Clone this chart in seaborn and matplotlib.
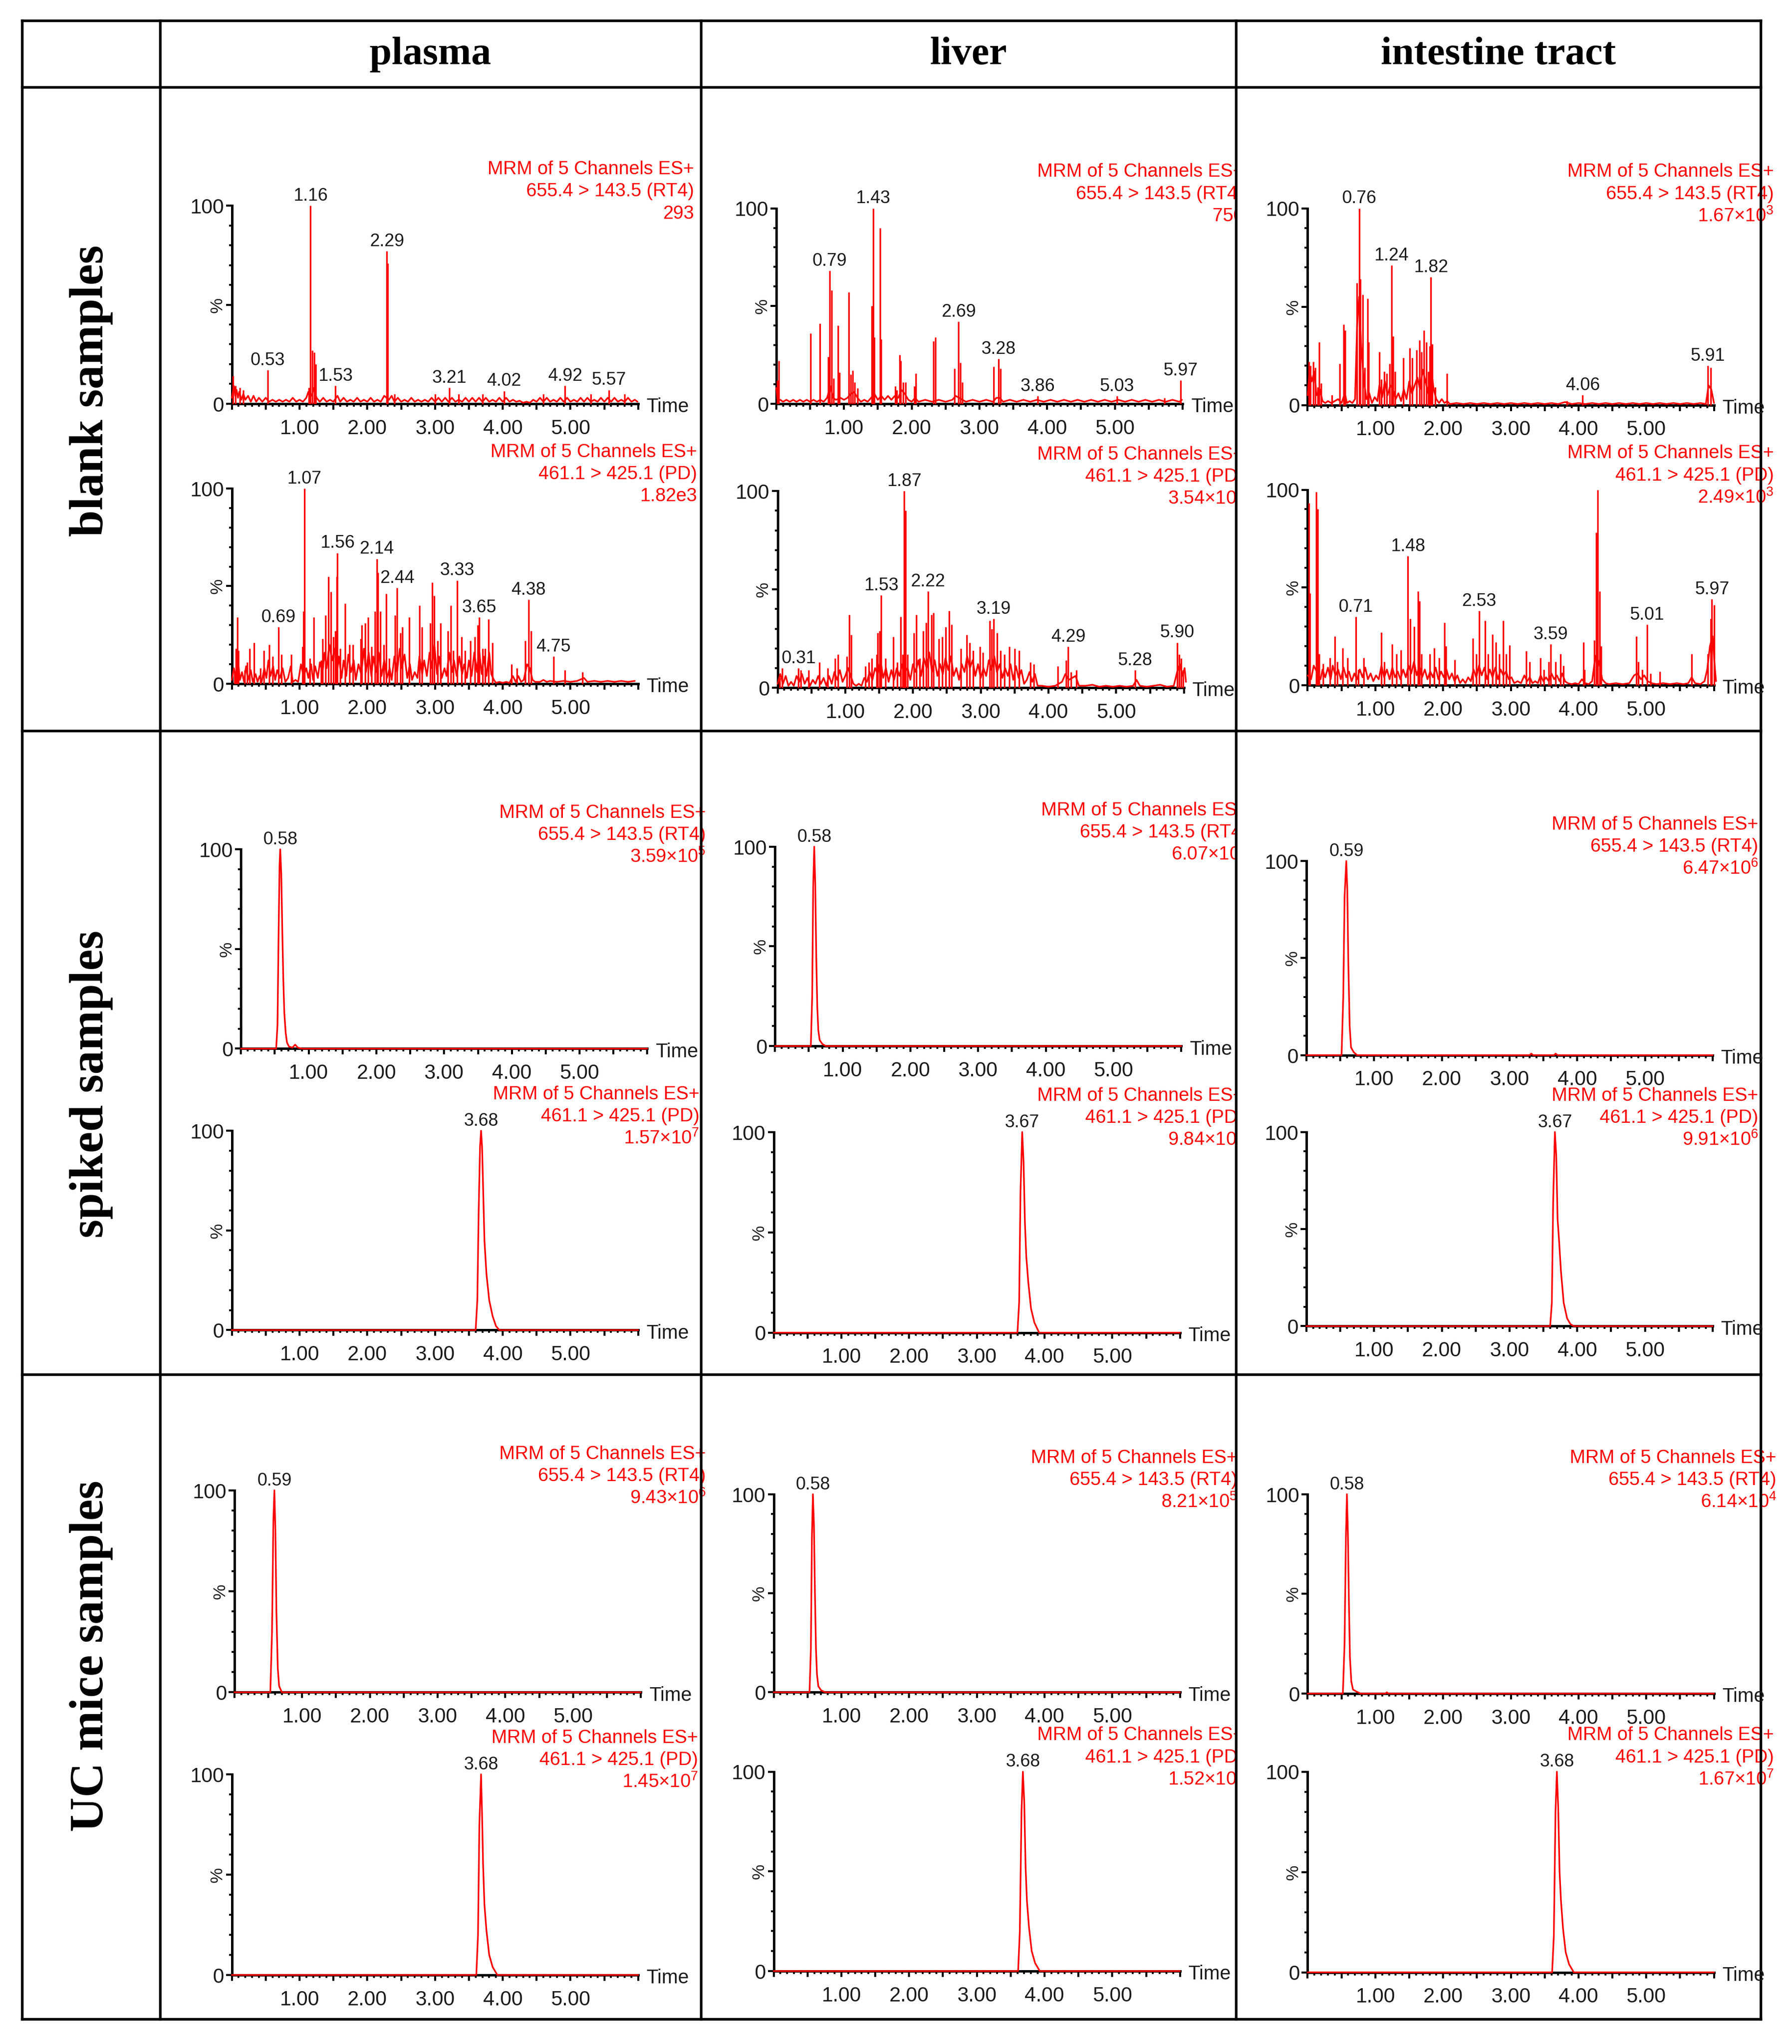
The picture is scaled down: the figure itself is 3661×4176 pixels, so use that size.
#!/usr/bin/env python3
"""MRM chromatograms of RT4 and PD in blank, spiked and UC mice samples."""

import matplotlib

matplotlib.use("Agg")
import matplotlib.pyplot as plt
import seaborn as sns
from matplotlib.ticker import FixedLocator, FuncFormatter, MultipleLocator
from matplotlib.transforms import Bbox, TransformedBbox, blended_transform_factory

RED = "#ff0000"

organs = ["plasma", "liver", "intestine tract"]
sample_rows = ["blank samples", "spiked samples", "UC mice samples"]
mrm_header = "MRM of 5 Channels ES+"
channels = ["655.4 > 143.5 (RT4)", "461.1 > 425.1 (PD)"]

# base-peak intensity shown under each channel, per organ: (RT4, PD)
blank_scale = [("293", "1.82e3"), ("750", "3.54×$10^{3}$"), ("1.67×$10^{3}$", "2.49×$10^{3}$")]
spiked_scale = [("3.59×$10^{5}$", "1.57×$10^{7}$"), ("6.07×$10^{4}$", "9.84×$10^{6}$"),
                ("6.47×$10^{6}$", "9.91×$10^{6}$")]
uc_scale = [("9.43×$10^{6}$", "1.45×$10^{7}$"), ("8.21×$10^{5}$", "1.52×$10^{7}$"),
            ("6.14×$10^{4}$", "1.67×$10^{7}$")]

# ---- blank samples: baseline (time, %) and spikes (time, %) ----
blank_plasma_rt4_floor = [
    (0.00, 3), (0.03, 9), (0.05, 4), (0.07, 7), (0.09, 3), (0.11, 6), (0.14, 2), (0.17, 5),
    (0.20, 2), (0.24, 4), (0.28, 1), (0.32, 4), (0.36, 1), (0.40, 3), (0.45, 1), (0.50, 3),
    (0.55, 1), (0.60, 2), (0.65, 1), (0.70, 2), (0.75, 1), (0.80, 2), (0.85, 1), (0.90, 3),
    (0.95, 1), (1.00, 2), (1.05, 1), (1.10, 3), (1.13, 6), (1.18, 4), (1.21, 8), (1.25, 3),
    (1.30, 1), (1.35, 3), (1.40, 1), (1.45, 2), (1.50, 1), (1.56, 4), (1.60, 1), (1.65, 3),
    (1.70, 1), (1.75, 2), (1.80, 1), (1.85, 3), (1.90, 1), (1.95, 2), (2.00, 1), (2.05, 3),
    (2.10, 1), (2.15, 2), (2.20, 1), (2.25, 4), (2.32, 2), (2.36, 4), (2.40, 1), (2.45, 3),
    (2.50, 1), (2.55, 2), (2.60, 1), (2.65, 3), (2.70, 1), (2.75, 2), (2.80, 1), (2.85, 2),
    (2.90, 1), (2.95, 3), (3.00, 1), (3.05, 3), (3.10, 1), (3.15, 3), (3.20, 1), (3.25, 3),
    (3.30, 1), (3.35, 2), (3.40, 1), (3.45, 3), (3.50, 1), (3.55, 3), (3.60, 1), (3.65, 3),
    (3.70, 1), (3.75, 3), (3.80, 1), (3.85, 2), (3.90, 1), (3.95, 3), (4.00, 1), (4.05, 3),
    (4.10, 1), (4.15, 2), (4.20, 1), (4.25, 1.5), (4.30, 0.5), (4.35, 1), (4.40, 0.5),
    (4.45, 2), (4.50, 1), (4.55, 3), (4.60, 1), (4.65, 3), (4.70, 1), (4.75, 2), (4.80, 1),
    (4.85, 3), (4.90, 1), (4.95, 3), (5.00, 1), (5.05, 2), (5.10, 1), (5.15, 3), (5.20, 1),
    (5.25, 3), (5.30, 1), (5.35, 2), (5.40, 1), (5.45, 3), (5.50, 1), (5.55, 3), (5.60, 1),
    (5.65, 3), (5.70, 1), (5.75, 2), (5.80, 1), (5.85, 3), (5.90, 1), (5.95, 2), (5.99, 1),
]
blank_plasma_rt4_spikes = [
    (0.02, 14), (0.05, 9), (0.12, 8), (0.17, 7), (0.53, 17), (1.14, 8), (1.16, 100),
    (1.19, 27), (1.22, 26), (1.24, 20), (1.53, 9), (2.29, 77), (2.30, 71), (2.40, 5),
    (3.00, 5), (3.21, 8), (3.35, 5), (3.70, 5), (4.02, 6.5), (4.60, 5), (4.92, 9),
    (5.30, 5), (5.57, 7), (5.80, 5),
]
blank_plasma_rt4_labels = [0.53, 1.16, 1.53, 2.29, 3.21, 4.02, 4.92, 5.57]

blank_plasma_pd_floor = [
    (0.00, 2), (0.03, 8), (0.06, 3), (0.09, 12), (0.12, 2), (0.15, 6), (0.18, 1), (0.21, 9),
    (0.24, 2), (0.28, 7), (0.31, 1), (0.35, 5), (0.38, 1), (0.41, 4), (0.44, 1), (0.48, 8),
    (0.51, 3), (0.54, 12), (0.57, 4), (0.61, 9), (0.64, 2), (0.67, 7), (0.71, 3), (0.75, 8),
    (0.79, 1), (0.83, 3), (0.87, 9), (0.90, 1), (0.94, 2), (0.98, 1), (1.02, 10), (1.06, 4),
    (1.10, 8), (1.13, 3), (1.17, 10), (1.20, 2), (1.23, 9), (1.27, 3), (1.30, 11), (1.34, 6),
    (1.37, 16), (1.40, 8), (1.44, 20), (1.48, 12), (1.52, 18), (1.55, 5), (1.58, 14),
    (1.62, 3), (1.65, 12), (1.69, 4), (1.72, 15), (1.76, 6), (1.80, 12), (1.83, 2),
    (1.87, 10), (1.91, 5), (1.95, 18), (1.98, 6), (2.02, 16), (2.06, 4), (2.09, 14),
    (2.13, 6), (2.17, 16), (2.21, 4), (2.25, 12), (2.29, 3), (2.33, 8), (2.36, 2), (2.40, 14),
    (2.44, 6), (2.48, 18), (2.51, 8), (2.55, 15), (2.59, 3), (2.63, 10), (2.66, 2), (2.70, 6),
    (2.74, 3), (2.77, 14), (2.81, 5), (2.84, 12), (2.88, 4), (2.92, 16), (2.95, 8), (2.99, 20),
    (3.03, 5), (3.06, 14), (3.10, 3), (3.14, 8), (3.17, 4), (3.21, 16), (3.25, 6), (3.28, 12),
    (3.32, 4), (3.36, 14), (3.40, 5), (3.43, 10), (3.47, 3), (3.50, 12), (3.54, 4), (3.58, 16),
    (3.62, 6), (3.65, 18), (3.69, 5), (3.72, 14), (3.76, 4), (3.80, 16), (3.83, 5), (3.87, 2),
    (3.90, 0.5), (3.95, 1), (4.00, 0.5), (4.05, 1), (4.10, 0.5), (4.15, 4), (4.19, 1),
    (4.23, 4), (4.27, 1), (4.31, 2), (4.36, 10), (4.40, 8), (4.44, 2), (4.48, 1), (4.55, 1),
    (4.60, 2), (4.65, 1), (4.70, 1.5), (4.80, 1), (4.90, 1.5), (5.00, 1), (5.10, 1.5),
    (5.20, 3), (5.25, 1), (5.35, 1.5), (5.45, 1), (5.55, 1.5), (5.65, 1), (5.75, 1.5),
    (5.85, 1), (5.95, 1.5),
]
blank_plasma_pd_spikes = [
    (0.04, 6), (0.06, 18), (0.08, 34), (0.10, 17), (0.19, 7), (0.23, 11), (0.26, 18),
    (0.33, 21), (0.42, 8), (0.47, 17), (0.55, 20), (0.60, 14), (0.69, 29), (0.73, 15),
    (0.88, 15), (1.04, 19), (1.06, 37), (1.07, 100), (1.15, 13), (1.21, 34), (1.32, 12),
    (1.34, 23), (1.38, 35), (1.43, 55), (1.46, 47), (1.50, 24), (1.53, 27), (1.55, 55),
    (1.56, 67), (1.60, 18), (1.67, 41), (1.74, 20), (1.79, 20), (1.90, 23), (1.92, 30),
    (1.97, 31), (2.01, 34), (2.06, 19), (2.11, 37), (2.14, 64), (2.16, 57), (2.19, 37),
    (2.24, 20), (2.28, 46), (2.32, 13), (2.41, 35), (2.44, 49), (2.49, 26), (2.52, 29),
    (2.62, 34), (2.77, 40), (2.81, 29), (2.93, 31), (2.96, 52), (2.99, 45), (3.04, 22),
    (3.08, 31), (3.19, 27), (3.23, 40), (3.27, 17), (3.33, 53), (3.39, 24), (3.44, 17),
    (3.52, 22), (3.59, 24), (3.63, 30), (3.65, 34), (3.70, 18), (3.74, 18), (3.79, 33),
    (3.85, 21), (4.13, 10), (4.21, 8), (4.33, 22), (4.38, 43), (4.42, 27), (4.75, 14),
    (4.92, 7), (5.18, 6),
]
blank_plasma_pd_labels = [0.69, 1.07, 1.56, 2.14, 2.44, 3.33, 3.65, 4.38, 4.75]

blank_liver_rt4_floor = [
    (0.00, 8), (0.02, 2), (0.06, 2), (0.10, 1), (0.15, 2), (0.20, 1), (0.25, 2), (0.30, 1),
    (0.35, 2), (0.40, 1), (0.45, 2), (0.50, 1), (0.55, 2), (0.60, 1), (0.65, 2), (0.70, 1),
    (0.75, 3), (0.80, 9), (0.84, 3), (0.88, 2), (0.95, 3), (1.00, 2), (1.05, 3), (1.10, 5),
    (1.15, 6), (1.20, 3), (1.25, 1), (1.30, 2), (1.35, 1), (1.40, 3), (1.45, 5), (1.50, 2),
    (1.55, 4), (1.60, 2), (1.65, 4), (1.70, 2), (1.75, 4), (1.80, 3), (1.85, 7), (1.90, 5),
    (1.95, 2), (2.00, 1), (2.05, 3), (2.10, 1), (2.20, 2), (2.30, 1), (2.40, 2), (2.50, 1),
    (2.60, 2), (2.65, 4), (2.70, 3), (2.75, 2), (2.80, 1), (2.90, 2), (3.00, 1), (3.10, 2),
    (3.20, 1), (3.25, 3), (3.30, 3), (3.35, 1), (3.45, 2), (3.55, 1), (3.65, 2), (3.75, 1),
    (3.85, 2), (3.95, 1), (4.05, 2), (4.15, 1), (4.25, 2), (4.35, 1), (4.45, 2), (4.55, 1),
    (4.65, 2), (4.75, 1), (4.85, 2), (4.95, 1), (5.05, 2), (5.15, 1), (5.25, 2), (5.35, 1),
    (5.45, 2), (5.55, 1), (5.65, 2), (5.75, 1), (5.85, 2), (5.95, 1), (5.99, 2),
]
blank_liver_rt4_spikes = [
    (0.015, 12), (0.035, 22), (0.51, 36), (0.645, 41), (0.77, 24), (0.79, 68), (0.82, 58),
    (0.85, 13), (0.91, 40), (0.93, 16), (1.07, 57), (1.10, 15), (1.13, 17), (1.16, 11),
    (1.20, 8), (1.41, 50), (1.43, 100), (1.45, 34), (1.53, 90), (1.55, 33), (1.76, 9),
    (1.78, 7), (1.82, 25), (1.84, 22), (1.87, 11), (1.91, 11), (2.04, 9), (2.06, 15.5),
    (2.32, 32), (2.35, 34), (2.63, 18), (2.69, 42), (2.72, 21), (2.75, 11), (3.21, 19),
    (3.28, 23), (3.31, 18), (3.86, 4), (5.03, 4), (5.73, 3), (5.97, 12),
]
blank_liver_rt4_labels = [0.79, 1.43, 2.69, 3.28, 3.86, 5.03, 5.97]

blank_liver_pd_floor = [
    (0.00, 2), (0.04, 7), (0.08, 2), (0.12, 6), (0.16, 1), (0.20, 3), (0.24, 1), (0.28, 6),
    (0.32, 3), (0.36, 7), (0.40, 2), (0.44, 5), (0.48, 1), (0.52, 4), (0.56, 2), (0.60, 6),
    (0.64, 2), (0.68, 5), (0.72, 1), (0.76, 6), (0.80, 2), (0.84, 8), (0.88, 4), (0.92, 9),
    (0.96, 3), (1.00, 6), (1.04, 10), (1.08, 6), (1.12, 2), (1.16, 1), (1.20, 2), (1.24, 1),
    (1.28, 5), (1.32, 3), (1.36, 8), (1.40, 4), (1.44, 10), (1.48, 7), (1.52, 14), (1.56, 5),
    (1.60, 10), (1.64, 3), (1.68, 9), (1.72, 4), (1.76, 10), (1.80, 6), (1.84, 12), (1.88, 8),
    (1.92, 10), (1.96, 4), (2.00, 12), (2.04, 8), (2.08, 14), (2.12, 6), (2.16, 15),
    (2.20, 10), (2.24, 18), (2.28, 8), (2.32, 14), (2.36, 6), (2.40, 12), (2.44, 7),
    (2.48, 15), (2.52, 9), (2.56, 16), (2.60, 6), (2.64, 10), (2.68, 4), (2.72, 12),
    (2.76, 8), (2.80, 16), (2.84, 10), (2.88, 14), (2.92, 6), (2.96, 12), (3.00, 5),
    (3.04, 10), (3.08, 6), (3.12, 14), (3.16, 9), (3.20, 16), (3.24, 8), (3.28, 12),
    (3.32, 5), (3.36, 10), (3.40, 6), (3.44, 12), (3.48, 4), (3.52, 11), (3.56, 5),
    (3.60, 9), (3.64, 2), (3.68, 4), (3.72, 8), (3.76, 3), (3.80, 7), (3.84, 1), (3.90, 1),
    (4.00, 0.5), (4.10, 1), (4.20, 3), (4.25, 7), (4.30, 4), (4.35, 5), (4.40, 6), (4.45, 1),
    (4.55, 1), (4.65, 1.5), (4.75, 0.5), (4.85, 1), (4.95, 0.5), (5.05, 1), (5.15, 0.5),
    (5.25, 1), (5.30, 4), (5.35, 1), (5.45, 0.5), (5.55, 1), (5.65, 1.5), (5.75, 0.5),
    (5.85, 1), (5.90, 8), (5.94, 12), (5.98, 6), (6.01, 10), (6.03, 3),
]
blank_liver_pd_spikes = [
    (0.035, 5), (0.07, 10), (0.31, 10), (0.34, 9), (0.46, 9), (0.62, 13), (0.74, 10),
    (0.85, 15), (0.89, 17), (1.025, 16), (1.06, 37), (1.09, 27), (1.30, 11), (1.35, 13),
    (1.39, 15), (1.46, 17), (1.48, 28), (1.51, 29), (1.53, 47), (1.59, 15), (1.71, 26),
    (1.77, 13), (1.82, 36), (1.85, 17), (1.87, 100), (1.89, 90), (1.92, 17), (2.01, 28),
    (2.05, 37), (2.10, 15), (2.15, 29), (2.19, 33), (2.22, 49), (2.27, 37), (2.30, 38),
    (2.38, 25), (2.43, 26), (2.48, 31), (2.53, 39), (2.57, 32), (2.71, 20), (2.79, 27),
    (2.84, 23), (2.89, 19), (2.99, 21), (3.03, 18), (3.13, 34), (3.16, 30), (3.19, 35),
    (3.24, 28), (3.29, 19), (3.35, 17), (3.42, 21), (3.50, 20), (3.57, 19), (3.73, 13),
    (3.78, 12), (4.14, 11), (4.26, 14), (4.29, 21), (4.33, 8), (4.41, 9), (5.28, 9),
    (5.90, 23), (5.93, 17), (5.96, 15), (5.99, 9),
]
blank_liver_pd_labels = [0.31, 1.53, 1.87, 2.22, 3.19, 4.29, 5.28, 5.90]

blank_intestine_rt4_floor = [
    (0.00, 5), (0.03, 18), (0.06, 12), (0.10, 17), (0.13, 5), (0.18, 8), (0.22, 2), (0.26, 1),
    (0.30, 2), (0.35, 1), (0.40, 2), (0.45, 3), (0.50, 1), (0.55, 6), (0.58, 1), (0.62, 2),
    (0.66, 1), (0.70, 3), (0.73, 40), (0.76, 55), (0.79, 30), (0.83, 12), (0.87, 3),
    (0.91, 6), (0.95, 1), (0.99, 4), (1.03, 2), (1.06, 10), (1.10, 4), (1.14, 12), (1.18, 5),
    (1.22, 10), (1.26, 8), (1.30, 3), (1.34, 6), (1.38, 2), (1.42, 8), (1.46, 3), (1.50, 12),
    (1.54, 6), (1.58, 10), (1.62, 14), (1.66, 8), (1.70, 18), (1.74, 12), (1.78, 6),
    (1.82, 20), (1.86, 8), (1.90, 3), (1.94, 1), (1.98, 3), (2.02, 1), (2.06, 2), (2.10, 0.5),
    (2.20, 1), (2.30, 0.5), (2.40, 1), (2.50, 0.5), (2.60, 1), (2.70, 0.5), (2.80, 1),
    (2.90, 0.5), (3.00, 1), (3.10, 0.5), (3.20, 1), (3.30, 0.5), (3.40, 1), (3.50, 0.5),
    (3.60, 1), (3.70, 0.5), (3.80, 1.5), (3.90, 0.5), (4.00, 1), (4.10, 0.5), (4.20, 1),
    (4.30, 0.5), (4.40, 1), (4.50, 0.5), (4.60, 1), (4.70, 0.5), (4.80, 1), (4.90, 0.5),
    (5.00, 1), (5.10, 0.5), (5.20, 1), (5.30, 0.5), (5.40, 1), (5.50, 0.5), (5.60, 1),
    (5.70, 0.5), (5.80, 1), (5.88, 0.5), (5.92, 10), (5.96, 8), (6.00, 1),
]
blank_intestine_rt4_spikes = [
    (0.015, 22), (0.04, 20), (0.08, 22), (0.11, 19), (0.15, 9), (0.17, 32), (0.20, 11),
    (0.36, 5), (0.47, 21), (0.53, 41), (0.55, 38), (0.73, 62), (0.76, 100), (0.78, 64),
    (0.81, 56), (0.84, 19), (0.885, 54), (0.90, 32), (1.06, 27), (1.09, 13), (1.13, 17),
    (1.17, 16), (1.21, 21), (1.24, 71), (1.26, 35), (1.29, 17), (1.41, 24), (1.505, 29),
    (1.54, 24), (1.605, 28), (1.65, 33), (1.68, 27), (1.72, 38), (1.75, 32), (1.78, 17),
    (1.80, 30), (1.82, 65), (1.84, 31), (1.88, 9), (2.06, 16), (3.83, 2), (4.06, 5),
    (5.91, 20), (5.95, 19),
]
blank_intestine_rt4_labels = [0.76, 1.24, 1.82, 4.06, 5.91]

blank_intestine_pd_floor = [
    (0.00, 5), (0.05, 3), (0.09, 10), (0.19, 3), (0.22, 8), (0.26, 4), (0.30, 9), (0.34, 3),
    (0.37, 10), (0.41, 5), (0.45, 8), (0.49, 3), (0.53, 9), (0.57, 4), (0.61, 7), (0.65, 2),
    (0.69, 6), (0.73, 3), (0.77, 8), (0.81, 4), (0.85, 9), (0.89, 3), (0.93, 6), (0.97, 2),
    (1.01, 5), (1.05, 3), (1.09, 10), (1.13, 4), (1.17, 8), (1.21, 3), (1.25, 9), (1.29, 4),
    (1.33, 7), (1.37, 3), (1.41, 8), (1.45, 4), (1.49, 10), (1.53, 6), (1.57, 12), (1.61, 5),
    (1.65, 10), (1.69, 4), (1.73, 8), (1.77, 3), (1.81, 7), (1.85, 4), (1.89, 9), (1.93, 3),
    (1.97, 7), (2.01, 4), (2.05, 8), (2.09, 3), (2.13, 6), (2.17, 2), (2.21, 5), (2.25, 1),
    (2.29, 3), (2.33, 1), (2.37, 4), (2.41, 2), (2.45, 8), (2.49, 4), (2.53, 10), (2.57, 5),
    (2.61, 9), (2.65, 3), (2.69, 8), (2.73, 4), (2.77, 9), (2.81, 3), (2.85, 8), (2.89, 5),
    (2.93, 7), (2.97, 3), (3.01, 4), (3.05, 1), (3.10, 2), (3.15, 1), (3.20, 5), (3.24, 2),
    (3.28, 4), (3.32, 1), (3.36, 2), (3.40, 1), (3.44, 5), (3.48, 2), (3.52, 4), (3.56, 2),
    (3.60, 6), (3.64, 3), (3.68, 5), (3.72, 2), (3.76, 6), (3.80, 2), (3.84, 1), (3.90, 0.5),
    (3.95, 1), (4.00, 0.5), (4.05, 3), (4.10, 1), (4.15, 0.5), (4.20, 2), (4.25, 15),
    (4.30, 12), (4.35, 3), (4.40, 1), (4.45, 0.5), (4.55, 1), (4.65, 0.5), (4.75, 1),
    (4.82, 5), (4.87, 6), (4.92, 3), (4.97, 5), (5.02, 2), (5.08, 1), (5.15, 0.5), (5.25, 1),
    (5.35, 0.5), (5.45, 1), (5.55, 0.5), (5.62, 1), (5.67, 4), (5.72, 1), (5.80, 0.5),
    (5.86, 2), (5.90, 8), (5.94, 20), (5.98, 25), (6.01, 10), (6.03, 2),
]
blank_intestine_pd_spikes = [
    (0.015, 93), (0.03, 47), (0.125, 99), (0.15, 90), (0.17, 16), (0.23, 11), (0.33, 14),
    (0.40, 25), (0.44, 12), (0.52, 19), (0.59, 14), (0.71, 35), (0.75, 8), (0.83, 14),
    (1.09, 27), (1.13, 12), (1.25, 21), (1.31, 16), (1.38, 18), (1.48, 66), (1.515, 34),
    (1.57, 30), (1.63, 48), (1.65, 43), (1.68, 16), (1.805, 16), (1.87, 19), (1.94, 14),
    (2.02, 32), (2.04, 20), (2.17, 13), (2.44, 24), (2.49, 16), (2.53, 38), (2.62, 33),
    (2.66, 16), (2.73, 26), (2.78, 22), (2.83, 16), (2.89, 33), (2.93, 16), (2.98, 20.5),
    (3.23, 17.6), (3.28, 12), (3.44, 14), (3.49, 8), (3.56, 12), (3.59, 21), (3.66, 12),
    (3.73, 16), (3.78, 10), (4.07, 22), (4.09, 8), (4.23, 23), (4.26, 78), (4.28, 100),
    (4.31, 48), (4.33, 20), (4.85, 25), (4.88, 12), (4.94, 8), (5.01, 31), (5.06, 6),
    (5.20, 7), (5.67, 16), (5.91, 16), (5.95, 34), (5.97, 44), (6.00, 41),
]
blank_intestine_pd_labels = [0.71, 1.48, 2.53, 3.59, 5.01, 5.97]

# ---- spiked samples: full traces (time, %) ----
spiked_plasma_rt4 = [
    (0.00, 0), (0.52, 0), (0.54, 12), (0.555, 55), (0.57, 92), (0.58, 100), (0.595, 88),
    (0.61, 60), (0.625, 35), (0.64, 18), (0.66, 8), (0.68, 3), (0.71, 1), (0.76, 0.5),
    (0.80, 2), (0.84, 0.5), (0.90, 0), (6.00, 0),
]
spiked_plasma_pd = [
    (0.00, 0), (3.60, 0), (3.625, 15), (3.645, 60), (3.665, 92), (3.68, 100), (3.695, 92),
    (3.71, 72), (3.73, 45), (3.76, 28), (3.80, 15), (3.85, 7), (3.90, 2), (3.95, 0), (6.00, 0),
]
spiked_liver_rt4 = [
    (0.00, 0), (0.53, 0), (0.55, 25), (0.565, 80), (0.58, 100), (0.595, 82), (0.61, 45),
    (0.625, 20), (0.64, 8), (0.66, 3), (0.70, 1), (0.75, 0), (6.00, 0),
]
spiked_liver_pd = [
    (0.00, 0), (3.60, 0), (3.625, 15), (3.645, 70), (3.67, 100), (3.69, 85), (3.71, 55),
    (3.73, 38), (3.76, 25), (3.80, 12), (3.85, 5), (3.92, 0), (6.00, 0),
]
spiked_intestine_rt4 = [
    (0.00, 0), (0.52, 0), (0.545, 30), (0.565, 82), (0.59, 100), (0.605, 85), (0.62, 48),
    (0.64, 15), (0.66, 4), (0.70, 1.5), (0.75, 0), (3.30, 0), (3.32, 0.8), (3.35, 0),
    (3.66, 0), (3.68, 0.8), (3.71, 0), (6.00, 0),
]
spiked_intestine_pd = [
    (0.00, 0), (3.60, 0), (3.625, 12), (3.645, 65), (3.67, 100), (3.69, 88), (3.71, 55),
    (3.73, 45), (3.76, 28), (3.80, 12), (3.85, 4), (3.90, 1), (3.95, 0), (6.00, 0),
]

# ---- UC mice samples ----
uc_plasma_rt4 = [
    (0.00, 0), (0.53, 0), (0.555, 30), (0.575, 85), (0.59, 100), (0.605, 80), (0.62, 40),
    (0.64, 12), (0.66, 3), (0.70, 0), (6.00, 0),
]
uc_plasma_pd = [
    (0.00, 0), (3.61, 0), (3.635, 20), (3.655, 75), (3.68, 100), (3.695, 80), (3.71, 55),
    (3.73, 35), (3.76, 22), (3.80, 10), (3.85, 4), (3.92, 0), (6.00, 0),
]
uc_liver_rt4 = [
    (0.00, 0), (0.53, 0), (0.55, 22), (0.565, 78), (0.58, 100), (0.595, 85), (0.61, 50),
    (0.625, 22), (0.64, 9), (0.66, 3), (0.70, 1), (0.76, 0), (6.00, 0),
]
uc_liver_pd = [
    (0.00, 0), (3.61, 0), (3.635, 20), (3.66, 80), (3.68, 100), (3.70, 85), (3.72, 52),
    (3.74, 35), (3.77, 22), (3.81, 10), (3.86, 4), (3.93, 0), (6.00, 0),
]
uc_intestine_rt4 = [
    (0.00, 0), (0.52, 0), (0.545, 25), (0.565, 78), (0.58, 100), (0.595, 80), (0.61, 45),
    (0.625, 18), (0.645, 6), (0.67, 2), (0.72, 1), (0.78, 0), (1.15, 0), (1.17, 0.6),
    (1.19, 0), (6.00, 0),
]
uc_intestine_pd = [
    (0.00, 0), (3.61, 0), (3.635, 18), (3.66, 80), (3.68, 100), (3.70, 82), (3.72, 50),
    (3.74, 36), (3.77, 22), (3.81, 10), (3.86, 4), (3.93, 0), (6.00, 0),
]

spiked_apex = [(0.58, 3.68), (0.58, 3.67), (0.59, 3.67)]
uc_apex = [(0.59, 3.68), (0.58, 3.68), (0.58, 3.68)]

PAGE_W, PAGE_H = 1376, 1569
col_edges = [17, 123, 538, 949, 1352]
row_edges = [16, 67, 561, 1055, 1550]
row_label_y = [300, 832, 1271]
AXIS_LEN = 312  # length of the 0-6 min axis
# (x of y-axis, y of 100 %, y of 0 %) for the upper / lower trace of each cell
panel_geom = [
    [[(178, 158, 310), (178, 375, 525)], [(596, 160, 310), (597, 377, 528)],
     [(1004, 160, 311), (1004, 376, 526)]],
    [[(185, 652, 805), (178, 868, 1021)], [(595, 650, 803), (594, 869, 1023)],
     [(1003, 661, 810), (1003, 869, 1018)]],
    [[(180, 1144, 1299), (178, 1362, 1516)], [(594, 1147, 1299), (594, 1360, 1513)],
     [(1004, 1147, 1300), (1004, 1360, 1514)]],
]
text_right = [
    [(533, 535), (955, 955), (1362, 1362)],
    [(542, 537), (958, 955), (1350, 1350)],
    [(542, 536), (950, 955), (1364, 1362)],
]

sns.set_style("ticks")
plt.rcParams["font.family"] = ["Liberation Sans", "DejaVu Sans"]
plt.rcParams["mathtext.default"] = "regular"
plt.rcParams["text.color"] = "#1a1a1a"


def time_label(v, pos):
    r = round(v)
    if abs(v - r) < 1e-6 and 1 <= r <= 5:
        return f"{v:.2f}"
    return ""


def style_axes(ax):
    ax.set_xlim(0, 6.0)
    ax.set_ylim(0, 100)
    ax.patch.set_visible(False)
    for s in ("top", "right"):
        ax.spines[s].set_visible(False)
    for s in ("left", "bottom"):
        ax.spines[s].set_linewidth(1.2)
        ax.spines[s].set_color("black")
    ax.xaxis.set_major_locator(MultipleLocator(0.5))
    ax.xaxis.set_minor_locator(MultipleLocator(0.1))
    ax.xaxis.set_major_formatter(FuncFormatter(time_label))
    ax.yaxis.set_major_locator(FixedLocator([0, 50, 100]))
    ax.yaxis.set_minor_locator(MultipleLocator(10))
    ax.yaxis.set_major_formatter(FuncFormatter(lambda v, p: "" if v == 50 else f"{v:.0f}"))
    ax.tick_params(which="major", length=2.8, width=1.0, color="black",
                   labelsize=10, labelcolor="#1a1a1a")
    ax.tick_params(which="minor", length=1.5, width=0.9, color="black")
    ax.tick_params(axis="x", which="major", pad=4.5)
    ax.tick_params(axis="y", which="major", pad=1)
    ax.set_xlabel("")
    ax.set_ylabel("")
    trans = blended_transform_factory(ax.transAxes, ax.transData)
    ax.text(-0.035, 50, "%", transform=trans, rotation=90, ha="center", va="center",
            fontsize=8.5)
    ax.text(1.02, -1.5, "Time", transform=trans, ha="left", va="center", fontsize=9.6)


def draw_trace(ax, floor, spikes, labels):
    t, h = zip(*floor)
    sns.lineplot(x=list(t), y=list(h), ax=ax, color=RED, linewidth=0.8,
                 estimator=None, sort=False, clip_on=False, zorder=3)
    if spikes:
        st, sh = zip(*spikes)
        ax.vlines(st, 0, sh, colors=RED, linewidth=0.8, zorder=3, clip_on=False)
    pts = list(floor) + list(spikes)
    for lab in labels:
        top = max(v for x, v in pts if abs(x - lab) < 0.016)
        ax.annotate(f"{lab:.2f}", xy=(lab, top), xytext=(0, 0.6), textcoords="offset points",
                    ha="center", va="bottom", fontsize=8.7, color="#1a1a1a",
                    annotation_clip=False)


fig = plt.figure(figsize=(3661.3 / 300, 4176.3 / 300), dpi=300)
page = fig.add_axes([0, 0, 1, 1])
page.set_xlim(0, PAGE_W)
page.set_ylim(PAGE_H, 0)
page.axis("off")

# table rules
for x in col_edges:
    page.plot([x, x], [row_edges[0], row_edges[-1]], color="black", lw=1.3, zorder=5,
              solid_capstyle="projecting")
for y in row_edges:
    page.plot([col_edges[0], col_edges[-1]], [y, y], color="black", lw=1.3, zorder=5,
              solid_capstyle="projecting")

serif = ["Liberation Serif", "DejaVu Serif"]
for j, name in enumerate(organs):
    page.text((col_edges[j + 1] + col_edges[j + 2]) / 2, 42, name, ha="center", va="center",
              family=serif, weight="bold", fontsize=19.5, color="black")
for i, name in enumerate(sample_rows):
    page.text((col_edges[0] + col_edges[1]) / 2, row_label_y[i], name, rotation=90,
              ha="center", va="center", family=serif, weight="bold", fontsize=23.5,
              color="black")

blank_traces = [
    [(blank_plasma_rt4_floor, blank_plasma_rt4_spikes, blank_plasma_rt4_labels),
     (blank_plasma_pd_floor, blank_plasma_pd_spikes, blank_plasma_pd_labels)],
    [(blank_liver_rt4_floor, blank_liver_rt4_spikes, blank_liver_rt4_labels),
     (blank_liver_pd_floor, blank_liver_pd_spikes, blank_liver_pd_labels)],
    [(blank_intestine_rt4_floor, blank_intestine_rt4_spikes, blank_intestine_rt4_labels),
     (blank_intestine_pd_floor, blank_intestine_pd_spikes, blank_intestine_pd_labels)],
]
spiked_traces = [
    [(spiked_plasma_rt4, [], [spiked_apex[0][0]]), (spiked_plasma_pd, [], [spiked_apex[0][1]])],
    [(spiked_liver_rt4, [], [spiked_apex[1][0]]), (spiked_liver_pd, [], [spiked_apex[1][1]])],
    [(spiked_intestine_rt4, [], [spiked_apex[2][0]]),
     (spiked_intestine_pd, [], [spiked_apex[2][1]])],
]
uc_traces = [
    [(uc_plasma_rt4, [], [uc_apex[0][0]]), (uc_plasma_pd, [], [uc_apex[0][1]])],
    [(uc_liver_rt4, [], [uc_apex[1][0]]), (uc_liver_pd, [], [uc_apex[1][1]])],
    [(uc_intestine_rt4, [], [uc_apex[2][0]]), (uc_intestine_pd, [], [uc_apex[2][1]])],
]
all_traces = [blank_traces, spiked_traces, uc_traces]
all_scales = [blank_scale, spiked_scale, uc_scale]

liver_clip = TransformedBbox(Bbox.from_extents(col_edges[2], 0, col_edges[3], PAGE_H),
                             page.transData)

for i in range(3):
    for j in range(3):
        for k in range(2):
            xl, y100, y0 = panel_geom[i][j][k]
            ax = fig.add_axes([xl / PAGE_W, 1 - y0 / PAGE_H, AXIS_LEN / PAGE_W,
                               (y0 - y100) / PAGE_H])
            floor, spikes, labels = all_traces[i][j][k]
            draw_trace(ax, floor, spikes, labels)
            style_axes(ax)

            lines = [mrm_header, channels[k], all_scales[i][j][k]]
            for n, line in enumerate(lines):
                txt = page.text(text_right[i][j][k], y100 - 28 + 17 * n, line, ha="right",
                                va="center", fontsize=9.2, color=RED, zorder=1)
                if j == 1:
                    txt.set_clip_box(liver_clip)
                    txt.set_clip_on(True)

fig.savefig("out.png", dpi=300)
